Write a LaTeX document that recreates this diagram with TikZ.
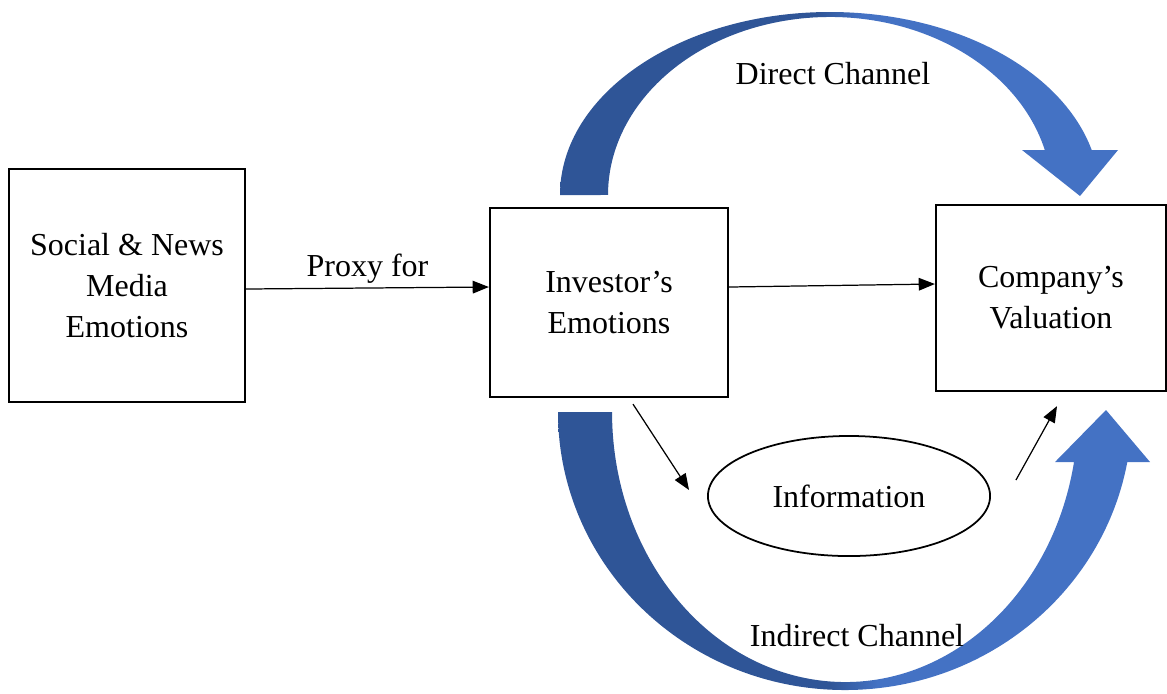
\documentclass[tikz,border=0pt]{standalone}
\usepackage{fontspec}
\setmainfont{Liberation Serif}
\usetikzlibrary{shapes, calc, arrows.meta, positioning}

\definecolor{chdark}{HTML}{2F5597}
\definecolor{chlight}{HTML}{4472C4}
\pgfdeclarehorizontalshading{chshade}{100bp}{color(0bp)=(chdark); color(48bp)=(chdark); color(52bp)=(chlight); color(100bp)=(chlight)}

\begin{document}
\begin{tikzpicture}[x=0.01cm,y=-0.01cm,>={Triangle[length=4.6pt,width=3.6pt]},
	font=\fontsize{9.1}{11.7}\selectfont,
	box/.style={draw,line width=0.6pt,align=center},
	link/.style={->,line width=0.35pt},
	channel/.style={shading=chshade}]
	\useasboundingbox (0,0) rectangle (1167,693);

	% broad curved arrows: direct channel over the top, indirect one underneath
	\path[channel] (560,195) arc[start angle=180,end angle=345.76,x radius=270,y radius=183]
		-- (1118,150) -- (1080,196) -- (1022,150) -- (1044.8,150)
		arc[start angle=345.36,end angle=180,x radius=222,y radius=178] -- cycle;
	\path[channel] (558,412) arc[start angle=180,end angle=10.36,x radius=287,y radius=278]
		-- (1150,462) -- (1106,410) -- (1055,462) -- (1074,462)
		arc[start angle=10.67,end angle=180,x radius=233,y radius=270] -- cycle;

	\node[box, minimum width=2.36cm, minimum height=2.33cm] (media) at (127,285.5) {Social \& News\\Media\\Emotions};
	\node[box, minimum width=2.38cm, minimum height=1.89cm] (investor) at (609,302.5) {Investor's\\Emotions};
	\node[box, minimum width=2.30cm, minimum height=1.86cm] (company) at (1051,298) {Company's\\Valuation};
	\node[draw, ellipse, line width=0.5pt, minimum width=2.82cm, minimum height=1.2cm] (info) at (849,496) {Information};

	\node (direct) at (833,74) {Direct Channel};
	\node (indirect) at (857,636) {Indirect Channel};

	\draw[link] ($(media.east)+(0,3.5)$) -- node[above, inner sep=1pt] (proxy) {Proxy for} ($(investor.west)+(0,-15.5)$);
	\draw[link] ($(investor.east)+(0,-15.5)$) -- ($(company.west)+(0,-14)$);
	\draw[link] ($(investor.south)+(24,6)$) -- ($(info.west)+(-18,-6)$);
	\draw[link] ($(info.east)+(25,-16)$) -- ($(company.south)+(6,14)$);
\end{tikzpicture}
\end{document}
